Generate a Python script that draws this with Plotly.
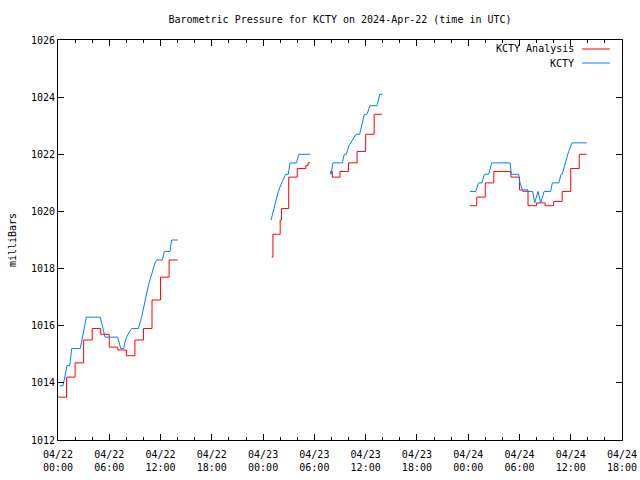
import plotly.graph_objects as go

# ---- data (hours since 2024-04-22 00:00 UTC; None = gap) ----
red_hours = [0, 1, 2, 3, 4, 5, 6, 7, 8, 9, 10, 11, 12, 13, 14, None,
             25.0, 25.15, 26.0, 26.15, 27, 28, 29, 29.25, 29.5, None,
             31.9, 32.1, 33, 34, 35, 36, 37, 37.9, None,
             48.2, 49, 50, 51, 53, 54, 55, 56, 57, 58, 59, 60, 61, 61.87]
red_mb = [1013.5, 1014.2, 1014.7, 1015.5, 1015.9, 1015.7, 1015.25, 1015.15, 1014.95,
          1015.5, 1015.9, 1016.9, 1017.7, 1018.3, 1018.3, None,
          1018.4, 1019.2, 1019.7, 1020.1, 1021.2, 1021.5, 1021.6, 1021.7, 1021.7, None,
          1021.4, 1021.2, 1021.4, 1021.7, 1022.1, 1022.7, 1023.4, 1023.4, None,
          1020.2, 1020.5, 1021.0, 1021.4, 1021.2, 1020.75, 1020.2, 1020.3, 1020.2,
          1020.35, 1020.7, 1021.5, 1022.0, 1022.0]

blue_hours = [0.23, 0.59, 1.05, 1.37, 1.6, 2.61, 3.31, 4.95, 5.5, 6.98, 7.34, 7.69, 7.9,
              8.19, 8.62, 9.4, 9.79, 10.57, 10.96, 11.35, 11.55, 12.2, 12.46, 13.1, 13.3,
              14.0, None,
              24.93, 25.4, 25.78, 26.18, 26.65, 26.95, 27.15, 27.9, 28.17, 29.53, None,
              31.87, 31.95, 32.18, 33.27, 33.5, 33.74, 34.05, 34.87, 35.3, 35.45, 35.85,
              36.16, 36.5, 37.33, 37.65, 37.95, None,
              48.2, 48.9, 49.2, 49.6, 49.9, 50.4, 50.75, 52.9, 53.05, 53.9, 54.07, 54.4,
              55.55, 55.78, 56.17, 56.49, 56.88, 57.65, 57.85, 58.6, 58.87, 59.0, 59.37,
              59.76, 60.15, 61.87]
blue_mb = [1013.9, 1013.9, 1014.6, 1014.6, 1015.2, 1015.2, 1016.3, 1016.3, 1015.6, 1015.6,
           1015.2, 1015.2, 1015.5, 1015.7, 1015.9, 1015.9, 1016.3, 1017.4, 1017.8, 1018.2,
           1018.3, 1018.3, 1018.6, 1018.6, 1019.0, 1019.0, None,
           1019.7, 1020.2, 1020.7, 1021.0, 1021.3, 1021.3, 1021.7, 1021.7, 1022.0, 1022.0, None,
           1021.4, 1021.3, 1021.7, 1021.7, 1022.0, 1022.0, 1022.3, 1022.7, 1022.7, 1022.9,
           1023.4, 1023.4, 1023.7, 1023.7, 1024.1, 1024.1, None,
           1020.7, 1020.7, 1021.0, 1021.0, 1021.3, 1021.3, 1021.7, 1021.7, 1021.3, 1021.3,
           1021.0, 1020.7, 1020.7, 1020.3, 1020.7, 1020.3, 1020.7, 1020.7, 1021.0, 1021.0,
           1021.3, 1021.3, 1021.7, 1022.1, 1022.4, 1022.4]

x_tick_hours = [0, 6, 12, 18, 24, 30, 36, 42, 48, 54, 60, 66]
x_tick_labels = ["04/22<br>00:00", "04/22<br>06:00", "04/22<br>12:00", "04/22<br>18:00",
                 "04/23<br>00:00", "04/23<br>06:00", "04/23<br>12:00", "04/23<br>18:00",
                 "04/24<br>00:00", "04/24<br>06:00", "04/24<br>12:00", "04/24<br>18:00"]
y_ticks = [1012, 1014, 1016, 1018, 1020, 1022, 1024, 1026]

names = ["KCTY Analysis", "KCTY"]
colors = ["#ff0000", "#0080ff"]

FONT = "DejaVu Sans Mono"

fig = go.Figure()
fig.add_trace(go.Scatter(x=red_hours, y=red_mb, mode="lines", name=names[0],
                         line=dict(color=colors[0], width=1, shape="hv"),
                         connectgaps=False, showlegend=False))
fig.add_trace(go.Scatter(x=blue_hours, y=blue_mb, mode="lines", name=names[1],
                         line=dict(color=colors[1], width=1),
                         connectgaps=False, showlegend=False))

# gnuplot-style key: right-aligned text with line sample on the right
for i, (nm, col) in enumerate(zip(names, colors)):
    yk = 1 - (9 + 14 * i) / 400
    fig.add_annotation(x=(576 - 58) / 564, y=yk, xref="paper", yref="paper", text=nm,
                       showarrow=False, xanchor="right", yanchor="middle",
                       font=dict(family=FONT, size=10, color="black"))
    fig.add_shape(type="line", xref="paper", yref="paper",
                  x0=(582 - 58) / 564, x1=(610 - 58) / 564, y0=yk, y1=yk,
                  line=dict(color=col, width=1))

fig.update_layout(
    width=640, height=480,
    margin=dict(l=58, r=18, t=40, b=40, autoexpand=False),
    paper_bgcolor="white", plot_bgcolor="white",
    font=dict(family=FONT, size=10, color="black"),
    title=dict(text="Barometric Pressure for KCTY on 2024-Apr-22 (time in UTC)",
               x=0.5, xref="paper", xanchor="center",
               y=1 - 19 / 480, yref="container", yanchor="middle",
               font=dict(family=FONT, size=10, color="black")),
)
fig.update_xaxes(range=[0, 66], tickvals=x_tick_hours, ticktext=x_tick_labels,
                 showgrid=False, zeroline=False, showline=True, linecolor="black",
                 linewidth=1, mirror="allticks", ticks="inside", ticklen=6,
                 tickcolor="black", ticklabelstandoff=5,
                 minor=dict(dtick=2, tick0=0, ticks="inside", ticklen=3,
                            tickcolor="black", showgrid=False))
fig.update_yaxes(range=[1012, 1026], tickvals=y_ticks,
                 showgrid=False, zeroline=False, showline=True, linecolor="black",
                 linewidth=1, mirror="allticks", ticks="inside", ticklen=6,
                 tickcolor="black",
                 title=dict(text="milliBars", standoff=12,
                            font=dict(family=FONT, size=10, color="black")))

fig.write_html("out.html", config={"displayModeBar": False},
               post_script="document.body.style.margin='0';document.body.style.overflow='hidden';")
